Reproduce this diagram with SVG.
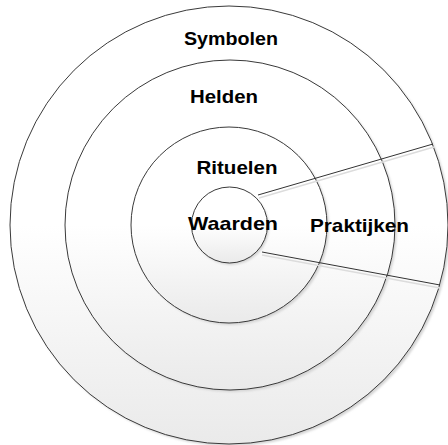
<svg xmlns="http://www.w3.org/2000/svg" width="448" height="445" viewBox="0 0 448 445">
<defs>
<linearGradient id="g" x1="0" y1="0" x2="0" y2="1">
<stop offset="0" stop-color="#ffffff"/>
<stop offset="0.5" stop-color="#ffffff"/>
<stop offset="1" stop-color="#eaeaea"/>
</linearGradient>
<filter id="sh" x="-10%" y="-10%" width="120%" height="120%">
<feGaussianBlur stdDeviation="1"/>
</filter>
</defs>
<style>
.ring{stroke:#3a3a3a;stroke-width:1;fill:url(#g)}
.shadow{fill:#d4d4d4;filter:url(#sh)}
.lbl{font-family:"Liberation Sans",Arial,sans-serif;font-weight:bold;font-size:19px;fill:#000;text-anchor:middle}
.conn{stroke:#333;stroke-width:1;fill:none}
.connsh{stroke:#dcdcdc;stroke-width:1.5;fill:none}
</style>
<rect width="448" height="445" fill="#ffffff"/>
<g id="symbolen">
<circle class="shadow" cx="231" cy="227" r="219"/>
<circle class="ring" cx="229" cy="225" r="219"/>
<text class="lbl" x="231" y="45" textLength="94" lengthAdjust="spacingAndGlyphs">Symbolen</text>
</g>
<g id="helden">
<circle class="shadow" cx="232" cy="227" r="165"/>
<circle class="ring" cx="230" cy="225" r="165"/>
<text class="lbl" x="224" y="103" textLength="68" lengthAdjust="spacingAndGlyphs">Helden</text>
</g>
<g id="rituelen">
<circle class="shadow" cx="231" cy="227" r="98"/>
<circle class="ring" cx="229" cy="225" r="98"/>
<text class="lbl" x="237" y="174" textLength="81" lengthAdjust="spacingAndGlyphs">Rituelen</text>
</g>
<g id="connectors">
<line class="connsh" x1="259" y1="198" x2="434" y2="147"/>
<line class="connsh" x1="262" y1="255" x2="440" y2="288"/>
<line class="conn" x1="258" y1="195" x2="433" y2="144"/>
<line class="conn" x1="262" y1="252" x2="440" y2="285"/>
</g>
<g id="waarden">
<circle class="shadow" cx="231" cy="227" r="38"/>
<circle class="ring" cx="229.5" cy="225" r="38"/>
<text class="lbl" x="233" y="230" textLength="90" lengthAdjust="spacingAndGlyphs">Waarden</text>
</g>
<g id="praktijken">
<text class="lbl" x="359.5" y="232" textLength="99" lengthAdjust="spacingAndGlyphs">Praktijken</text>
</g>
</svg>
